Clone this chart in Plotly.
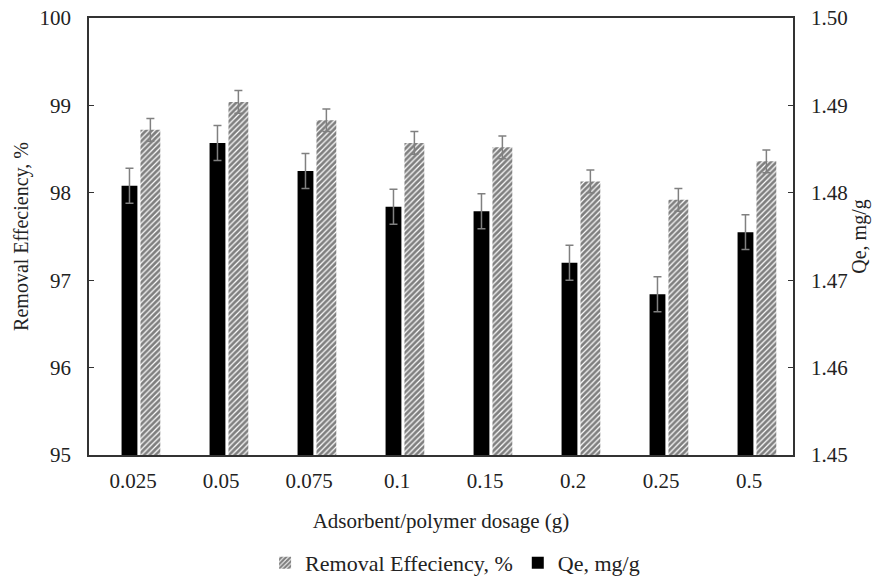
import plotly.graph_objects as go

categories = ["0.025", "0.05", "0.075", "0.1", "0.15", "0.2", "0.25", "0.5"]
removal = [98.72, 99.04, 98.83, 98.57, 98.52, 98.13, 97.92, 98.36]
removal_err = [0.13, 0.13, 0.13, 0.13, 0.13, 0.13, 0.13, 0.13]
qe = [1.4808, 1.4857, 1.4825, 1.4784, 1.4779, 1.4720, 1.4684, 1.4755]
qe_err = [0.002, 0.002, 0.002, 0.002, 0.002, 0.002, 0.002, 0.002]

FONT = "Liberation Serif, Times New Roman, serif"
TXT = "#222222"

fig = go.Figure()
fig.add_trace(go.Bar(
    x=categories, y=removal, name="Removal Effeciency, %",
    yaxis="y", offset=0.085, width=0.225,
    marker=dict(color="white", line=dict(width=0),
                pattern=dict(shape="/", fgcolor="#000000", bgcolor="white",
                             size=4, solidity=0.7)),
    error_y=dict(type="data", array=removal_err, color="#808080",
                 thickness=1.5, width=4),
))
fig.add_trace(go.Bar(
    x=categories, y=qe, name="Qe, mg/g",
    yaxis="y2", offset=-0.13, width=0.18,
    marker=dict(color="black", line=dict(width=0)),
    error_y=dict(type="data", array=qe_err, color="#808080",
                 thickness=1.5, width=4),
))

fig.update_layout(
    width=882, height=576,
    margin=dict(l=89, r=89, t=18, b=121, autoexpand=False),
    plot_bgcolor="white", paper_bgcolor="white",
    font=dict(family=FONT, size=21, color=TXT),
    showlegend=True,
    legend=dict(orientation="h", x=0.52, xanchor="center",
                y=-0.247, yanchor="middle",
                font=dict(family=FONT, size=22, color=TXT), traceorder="normal",
                itemwidth=30),
    xaxis=dict(type="category", showline=True, linecolor="#333333", linewidth=1.5,
               mirror=True, ticks="", tickfont=dict(size=21), automargin=False,
               ticklabelstandoff=6, ticklabeloverflow="allow",
               title=dict(text="Adsorbent/polymer dosage (g)", font=dict(size=21), standoff=21)),
    yaxis=dict(range=[95, 100], dtick=1, showgrid=False, zeroline=False,
               showline=True, linecolor="#333333", linewidth=1.5,
               ticks="inside", ticklen=5, tickcolor="#333333", automargin=False,
               tickfont=dict(size=21), ticklabelstandoff=12, ticklabeloverflow="allow",
               title=dict(text="Removal Effeciency, %", font=dict(size=20), standoff=6)),
    yaxis2=dict(range=[1.45, 1.50], dtick=0.01, tickformat=".2f", overlaying="y", side="right",
                showgrid=False, zeroline=False, showline=True, linecolor="#333333", linewidth=1.5,
                ticks="inside", ticklen=5, tickcolor="#333333", automargin=False,
                tickfont=dict(size=21), ticklabelstandoff=12, ticklabeloverflow="allow",
                title=dict(text="Qe, mg/g", font=dict(size=20), standoff=0)),
)

# remove the browser's default 8px body margin so the figure fills the window exactly
fig.write_html("out.html", config={"displayModeBar": False},
               post_script="document.body.style.margin='0';")
